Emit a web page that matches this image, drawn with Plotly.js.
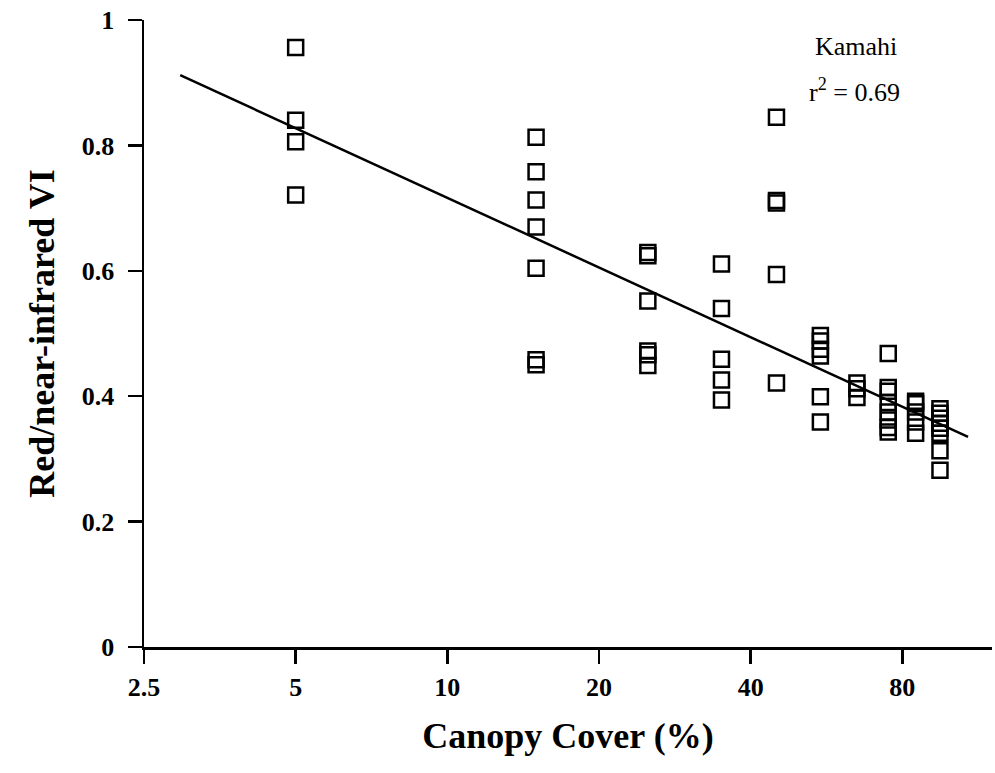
<!DOCTYPE html>
<html>
<head>
<meta charset="utf-8">
<script src="https://cdn.plot.ly/plotly-3.0.1.min.js"></script>
<style>html,body{margin:0;padding:0;background:#fff;}#chart{width:995px;height:773px;}</style>
</head>
<body>
<div id="chart"></div>
<script>
// Canopy cover class midpoints (%) and measured red/near-infrared VI
const canopyCover = [
  5, 5, 5, 5,
  15, 15, 15, 15, 15, 15, 15,
  25, 25, 25, 25, 25, 25,
  35, 35, 35, 35, 35,
  45, 45, 45, 45, 45,
  55, 55, 55, 55, 55, 55,
  65, 65, 65,
  75, 75, 75, 75, 75, 75, 75, 75,
  85, 85, 85, 85, 85,
  95, 95, 95, 95, 95, 95, 95, 95
];
const redNirVI = [
  0.956, 0.840, 0.806, 0.721,
  0.813, 0.758, 0.713, 0.670, 0.604, 0.458, 0.450,
  0.629, 0.624, 0.552, 0.472, 0.466, 0.449,
  0.611, 0.540, 0.459, 0.426, 0.394,
  0.845, 0.712, 0.708, 0.594, 0.421,
  0.497, 0.488, 0.475, 0.464, 0.399, 0.359,
  0.421, 0.412, 0.398,
  0.468, 0.414, 0.408, 0.390, 0.375, 0.362, 0.350, 0.343,
  0.392, 0.388, 0.375, 0.359, 0.341,
  0.380, 0.373, 0.365, 0.357, 0.349, 0.341, 0.313, 0.282
];
// Fitted regression line end points
const fitX = [2.95, 108];
const fitY = [0.912, 0.335];
const xTickVals = [2.5, 5, 10, 20, 40, 80];
const xTickText = ['2.5', '5', '10', '20', '40', '80'];
const yTickVals = [0, 0.2, 0.4, 0.6, 0.8, 1];
const yTickText = ['0', '0.2', '0.4', '0.6', '0.8', '1'];

const serif = 'Liberation Serif, Times New Roman, serif';

const traces = [
  {
    x: canopyCover, y: redNirVI, type: 'scatter', mode: 'markers',
    marker: {symbol: 'square-open', size: 15, color: '#000', line: {width: 2.5, color: '#000'}},
    hoverinfo: 'x+y', showlegend: false
  },
  {
    x: fitX, y: fitY, type: 'scatter', mode: 'lines',
    line: {color: '#000', width: 2.5}, showlegend: false, hoverinfo: 'skip'
  }
];

const layout = {
  width: 995, height: 773,
  margin: {l: 144, r: 3, t: 20, b: 126},
  paper_bgcolor: '#fff', plot_bgcolor: '#fff',
  font: {family: serif, color: '#000'},
  xaxis: {
    type: 'log',
    range: [Math.log10(2.5), Math.log10(120.5)],
    tickvals: xTickVals, ticktext: xTickText,
    ticks: 'outside', ticklen: 14, tickwidth: 2.5, tickcolor: '#000',
    showline: true, linewidth: 2.5, linecolor: '#000',
    showgrid: false, zeroline: false,
    tickfont: {family: serif, size: 26, color: '#000', weight: 'bold'},
    ticklabelstandoff: 1,
    title: {text: '<b>Canopy Cover (%)</b>', font: {family: serif, size: 36, color: '#000'}, standoff: 22}
  },
  yaxis: {
    range: [0, 1],
    tickvals: yTickVals, ticktext: yTickText,
    ticks: 'outside', ticklen: 14, tickwidth: 2.5, tickcolor: '#000',
    showline: true, linewidth: 2.5, linecolor: '#000',
    showgrid: false, zeroline: false,
    tickfont: {family: serif, size: 26, color: '#000', weight: 'bold'},
    ticklabelstandoff: 8,
    title: {text: '<b>Red/near-infrared VI</b>', font: {family: serif, size: 36, color: '#000'}, standoff: 16}
  },
  annotations: [
    {xref: 'paper', yref: 'paper', x: 0.84, y: 0.957, text: 'Kamahi', showarrow: false,
     font: {family: serif, size: 26, color: '#000'}, xanchor: 'center', yanchor: 'middle'},
    {xref: 'paper', yref: 'paper', x: 0.838, y: 0.888, text: 'r<sup>2</sup> = 0.69', showarrow: false,
     font: {family: serif, size: 26, color: '#000'}, xanchor: 'center', yanchor: 'middle'}
  ]
};

Plotly.newPlot('chart', traces, layout, {displayModeBar: false, staticPlot: true});
</script>
</body>
</html>
